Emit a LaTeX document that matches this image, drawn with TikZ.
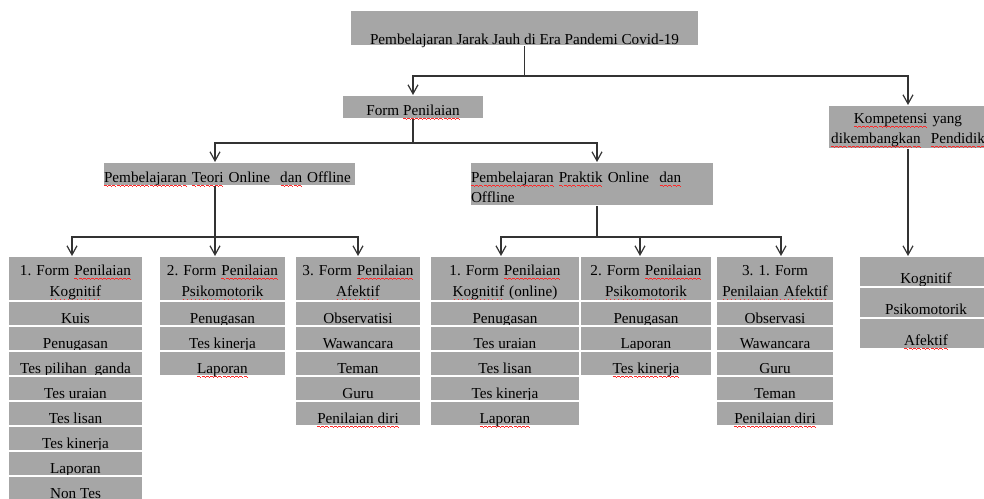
\documentclass[tikz,border=0pt]{standalone}
\usepackage{fontspec}
\setmainfont{Liberation Serif}
\usetikzlibrary{positioning,arrows.meta}
\definecolor{cellgray}{RGB}{166,166,166}
\newsavebox\sqbox
\newcommand\sq[1]{\leavevmode\sbox\sqbox{#1}\rlap{\color{red!85}\hbox to\wd\sqbox{\xleaders\hbox{\rule[-4pt]{1pt}{0.7pt}\rule[-3.3pt]{1pt}{0.7pt}\rule[-4pt]{1pt}{0.7pt}\rule[-4.7pt]{1pt}{0.7pt}}\hfill}}\usebox\sqbox}
\frenchspacing

\tikzset{
  box/.style={fill=cellgray, draw=white, line width=1.5pt, inner xsep=1pt, inner ysep=0pt, outer sep=0pt, font=\fontsize{15.2}{20}\selectfont},
  cell/.style={box, align=center, text height=22pt, text depth=3pt},
  head/.style={box, text width=#1, align=center, text height=19pt, text depth=26pt, font=\fontsize{15.2}{21.5}\selectfont},
  wire/.style={draw=black!80, line width=1.2pt}
}

\begin{document}
\begin{tikzpicture}[x=1pt, y=-1pt, >={Straight Barb[length=9pt,width=10pt]}]
  \useasboundingbox (0,0) rectangle (984,498);

  \node(title)[box, anchor=north west, minimum width=349pt, text height=34pt, text depth=2pt] at (350,10) {Pembelajaran Jarak Jauh di Era Pandemi Covid-19};
  \node(form)[box, anchor=north, minimum width=142pt, text height=20pt, text depth=4pt] at (413,95) {Form \sq{Penilaian}};
  \node(komp)[box, anchor=north west, text width=158pt, align=center, text height=18pt, text depth=26pt] at (828,105) {\sq{Kompetensi} yang\\\sq{dikembangkan}\ \ \sq{Pendidik}};
  \node(teori)[box, anchor=north west, text width=251pt, align=left, text height=20pt, text depth=4pt] at (103,162) {\sq{Pembelajaran} \sq{Teori} Online\ \ \sq{dan} Offline};
  \node(praktik)[box, anchor=north west, text width=242pt, align=left, text height=20pt, text depth=24pt] at (470,162) {\sq{Pembelajaran} \sq{Praktik} Online\ \ \sq{dan}\\Offline};

  % teori
  \node(tk0)[head=133pt, anchor=north west] at (8,256) {1. Form \sq{Penilaian}\\\sq{Kognitif}};
  \foreach \w [count=\i, remember=\i as \j (initially 0)] in {\sq{Kuis}, \sq{Penugasan}, \sq{Tes pilihan}\ \ \sq{ganda}, \sq{Tes uraian}, \sq{Tes lisan}, \sq{Tes kinerja}, \sq{Laporan}, Non Tes}
    \node(tk\i)[cell, minimum width=135pt, below=0pt of tk\j] {\w};
  \node(tp0)[head=125pt, anchor=north west] at (159,256) {2. Form \sq{Penilaian}\\\sq{Psikomotorik}};
  \foreach \w [count=\i, remember=\i as \j (initially 0)] in {\sq{Penugasan}, \sq{Tes kinerja}, \sq{Laporan}}
    \node(tp\i)[cell, minimum width=127pt, below=0pt of tp\j] {\w};
  \node(ta0)[head=124pt, anchor=north west] at (295,256) {3. Form \sq{Penilaian}\\\sq{Afektif}};
  \foreach \w [count=\i, remember=\i as \j (initially 0)] in {\sq{Observatisi}, \sq{Wawancara}, \sq{Teman}, Guru, \sq{Penilaian diri}}
    \node(ta\i)[cell, minimum width=126pt, below=0pt of ta\j] {\w};

  % praktik
  \node(pk0)[head=148pt, anchor=north west] at (430,256) {1. Form \sq{Penilaian}\\\sq{Kognitif} (online)};
  \foreach \w [count=\i, remember=\i as \j (initially 0)] in {\sq{Penugasan}, \sq{Tes uraian}, \sq{Tes lisan}, \sq{Tes kinerja}, \sq{Laporan}}
    \node(pk\i)[cell, minimum width=150pt, below=0pt of pk\j] {\w};
  \node(pp0)[head=130pt, anchor=north west] at (580,256) {2. Form \sq{Penilaian}\\\sq{Psikomotorik}};
  \foreach \w [count=\i, remember=\i as \j (initially 0)] in {\sq{Penugasan}, \sq{Laporan}, \sq{Tes kinerja}}
    \node(pp\i)[cell, minimum width=132pt, below=0pt of pp\j] {\w};
  \node(pa0)[head=116pt, anchor=north west] at (716,256) {3. 1. Form\\\sq{Penilaian Afektif}};
  \foreach \w [count=\i, remember=\i as \j (initially 0)] in {\sq{Observasi}, \sq{Wawancara}, Guru, \sq{Teman}, \sq{Penilaian diri}}
    \node(pa\i)[cell, minimum width=118pt, below=0pt of pa\j] {\w};

  % kompetensi
  \coordinate(kd0) at (926,256);
  \foreach \w [count=\i, remember=\i as \j (initially 0)] in {\sq{Kognitif}, \sq{Psikomotorik}, \sq{Afektif}}
    \node(kd\i)[cell, minimum width=134pt, text height=27pt, text depth=4pt, below=0pt of kd\j] {\w};

  \coordinate(jt) at ([yshift=-30pt]title.south);
  \coordinate(jf) at ([yshift=-24pt]form.south);
  \coordinate(jte) at ([xshift=-14.5pt, yshift=-51pt]teori.south);
  \coordinate(jpr) at ([xshift=5pt, yshift=-31pt]praktik.south);

  \draw[wire] (title.south) -- (jt);
  \draw[wire, ->] (jt) -| (form);
  \draw[wire, ->] (jt) -| (komp);
  \draw[wire] (form) -- (jf);
  \draw[wire, ->] (jf) -| ([xshift=-14.5pt]teori.north);
  \draw[wire, ->] (jf) -| ([xshift=5pt]praktik.north);
  \draw[wire] ([xshift=-14.5pt]teori.south) -- (jte);
  \draw[wire, ->] (jte) -| ([xshift=-3.5pt]tk0.north);
  \draw[wire, ->] (jte) -- (jte |- tp0.north);
  \draw[wire, ->] (jte) -| (ta0);
  \draw[wire] ([xshift=5pt]praktik.south) -- (jpr);
  \draw[wire, ->] (jpr) -| ([xshift=-4pt]pk0.north);
  \draw[wire, ->] (jpr) -| ([xshift=-6pt]pp0.north);
  \draw[wire, ->] (jpr) -| ([xshift=6pt]pa0.north);
  \draw[wire, ->] (komp) -- (komp |- kd1.north);
\end{tikzpicture}
\end{document}
